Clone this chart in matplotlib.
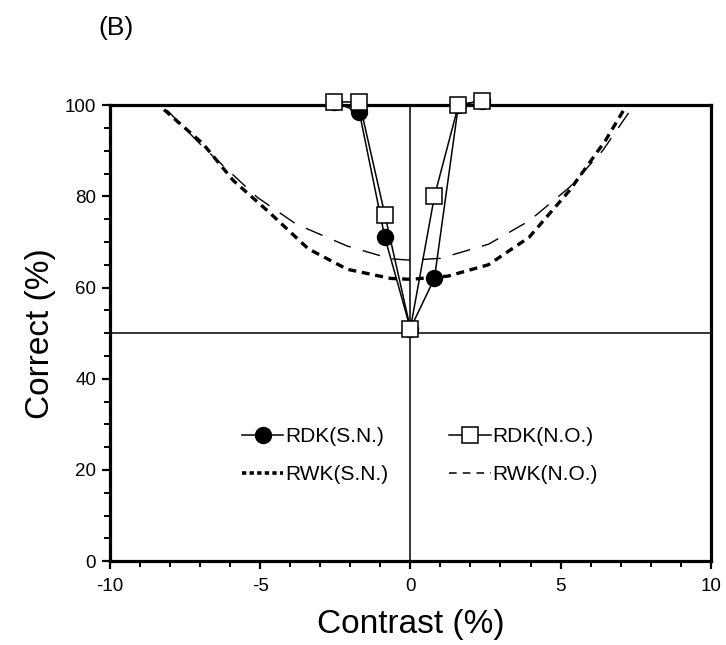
import matplotlib
matplotlib.use("Agg")
import matplotlib.pyplot as plt
from matplotlib.lines import Line2D
from matplotlib.ticker import MultipleLocator

# RDK data (contrast %, correct %)
rdk_x = [-2.55, -1.7, -0.85, 0.0, 0.8, 1.6, 2.4]
rdk_sn = [100.7, 98.5, 71.0, 51.0, 62.0, 100.0, 101.0]
rdk_no = [100.7, 100.7, 76.0, 51.0, 80.0, 100.0, 101.0]

# RWK curves
rwk_sn_x = [-8.2, -6.9, -5.9, -4.7, -3.4, -2.1, -0.65, 0.0, 1.25, 2.6, 3.95, 5.3, 6.5, 7.2]
rwk_sn_y = [99.0, 91.5, 83.5, 76.5, 68.5, 64.0, 62.0, 61.8, 62.5, 65.0, 71.0, 81.3, 92.3, 100.0]
rwk_no_x = [-8.1, -6.9, -5.1, -3.8, -2.1, -0.65, 0.0, 1.0, 2.6, 3.95, 5.3, 6.4, 7.4]
rwk_no_y = [98.9, 90.8, 79.8, 73.9, 69.1, 66.3, 66.0, 66.4, 69.5, 74.6, 82.0, 90.0, 99.6]

plt.rcParams['font.family'] = ['Liberation Sans', 'DejaVu Sans']
plt.rcParams['axes.unicode_minus'] = False

fig = plt.figure(figsize=(7.26, 6.45), dpi=100)
ax = fig.add_axes([0.1515, 0.13, 0.8275, 0.707])

ax.axvline(0, color='black', lw=1.1, zorder=1)
ax.axhline(50, color='black', lw=1.1, zorder=1)

ax.plot(rwk_sn_x, rwk_sn_y, color='black', lw=2.4, linestyle=(0, (2.4, 1.7)), zorder=2)
ax.plot(rwk_no_x, rwk_no_y, color='black', lw=1.0, linestyle=(0, (13, 9)), zorder=2)
l_sn, = ax.plot(rdk_x, rdk_sn, color='black', lw=1.1, marker='o', markersize=11.5,
                markerfacecolor='black', zorder=3, clip_on=False)
l_no, = ax.plot(rdk_x, rdk_no, color='black', lw=1.1, marker='s', markersize=11.5,
                markerfacecolor='white', markeredgewidth=1.1, zorder=4, clip_on=False)

ax.set_xlim(-10, 10)
ax.set_ylim(0, 100)
ax.xaxis.set_major_locator(MultipleLocator(5))
ax.xaxis.set_minor_locator(MultipleLocator(1))
ax.yaxis.set_major_locator(MultipleLocator(20))
ax.yaxis.set_minor_locator(MultipleLocator(5))
ax.tick_params(which='major', direction='out', length=6, width=1.6, labelsize=13.5)
ax.tick_params(which='minor', direction='out', length=4, width=1.4)
ax.tick_params(axis='x', pad=6)
ax.tick_params(axis='y', pad=4)
for s in ax.spines.values():
    s.set_linewidth(2.3)

ax.set_xlabel('Contrast (%)', fontsize=24, labelpad=10)
ax.set_ylabel('Correct (%)', fontsize=24, labelpad=6)

# legend keys with shorter dash patterns, as in the figure
h_sn = Line2D([], [], color='black', lw=2.6, linestyle=(0, (1.2, 0.9)))
h_no = Line2D([], [], color='black', lw=1.1, linestyle=(0, (5, 4)))
ax.legend([l_sn, h_sn, l_no, h_no], ['RDK(S.N.)', 'RWK(S.N.)', 'RDK(N.O.)', 'RWK(N.O.)'],
          ncol=2, frameon=False, loc='upper left', bbox_to_anchor=(0.188, 0.335),
          prop={'size': 15}, handlelength=2.0, handletextpad=0.1,
          columnspacing=2.9, labelspacing=0.9)

fig.text(0.135, 0.957, '(B)', fontsize=19, va='center', ha='left')

fig.savefig('out.png', dpi=100)
